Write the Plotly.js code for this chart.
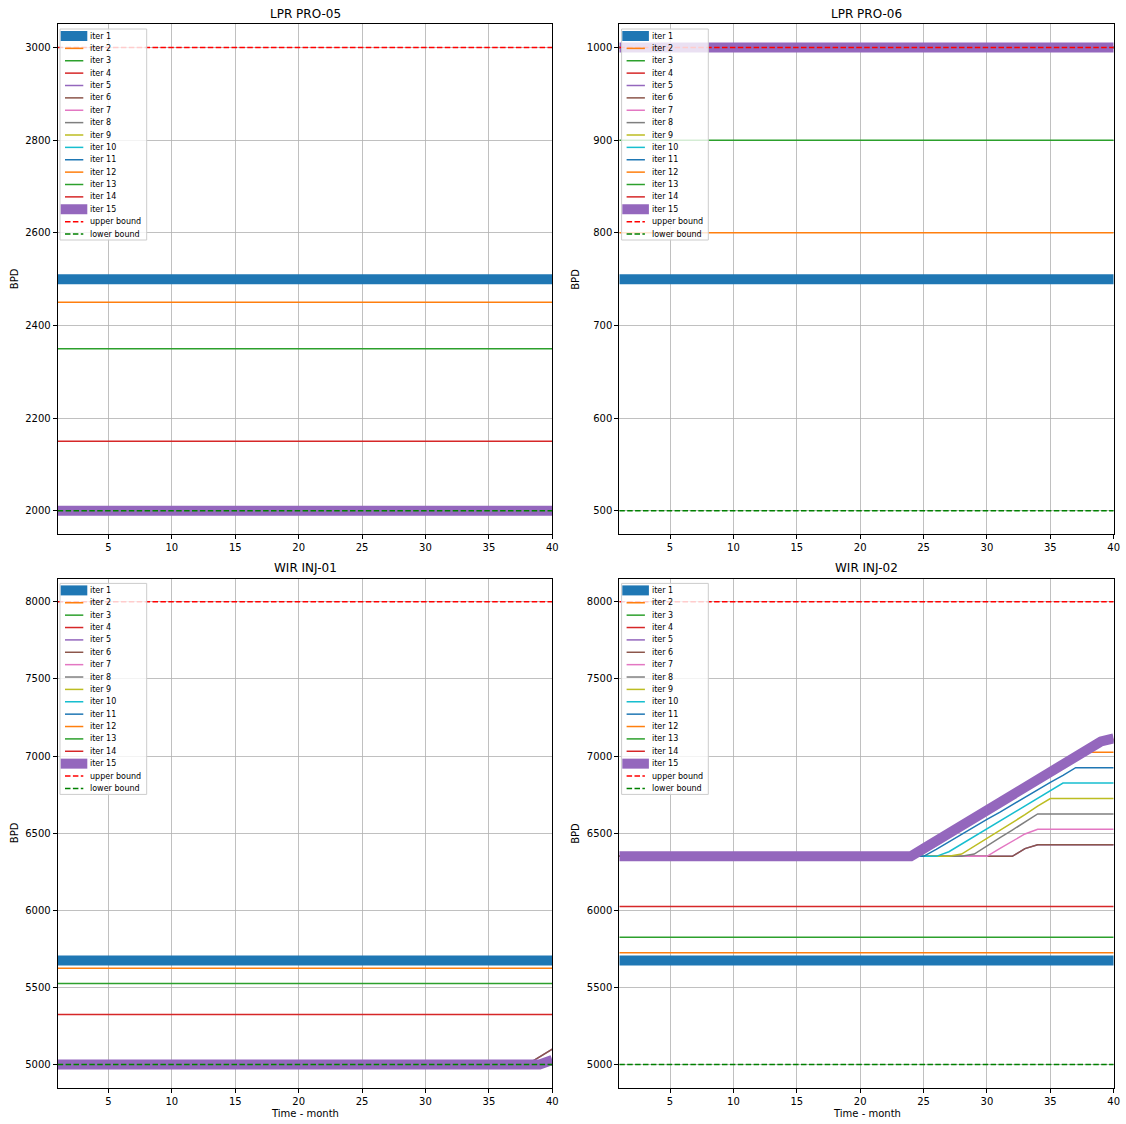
<!DOCTYPE html>
<html>
<head>
<meta charset="utf-8">
<script src="https://cdn.plot.ly/plotly-3.0.1.min.js"></script>
<style>
  html, body { margin: 0; padding: 0; background: #ffffff; }
  #chart { width: 1126px; height: 1124px; }
</style>
</head>
<body>
<div id="chart"></div>
<script>
// ---------------------------------------------------------------------------
// Data: monthly rate per optimisation iteration for four wells
// ---------------------------------------------------------------------------
const months = [1, 2, 3, 4, 5, 6, 7, 8, 9, 10,
                11, 12, 13, 14, 15, 16, 17, 18, 19, 20,
                21, 22, 23, 24, 25, 26, 27, 28, 29, 30,
                31, 32, 33, 34, 35, 36, 37, 38, 39, 40];

const iterNames = ['iter 1', 'iter 2', 'iter 3', 'iter 4', 'iter 5', 'iter 6', 'iter 7', 'iter 8',
                   'iter 9', 'iter 10', 'iter 11', 'iter 12', 'iter 13', 'iter 14', 'iter 15'];
const boundNames = ['upper bound', 'lower bound'];
const panelTitles = ['LPR PRO-05', 'LPR PRO-06', 'WIR INJ-01', 'WIR INJ-02'];

// Constant rates (one value held over all months) per iteration
const pro05Levels = [2500, 2450, 2350, 2150, 2000, 2000, 2000, 2000, 2000, 2000, 2000, 2000, 2000, 2000, 2000];
const pro06Levels = [750, 800, 900, 1000, 1000, 1000, 1000, 1000, 1000, 1000, 1000, 1000, 1000, 1000, 1000];

// WIR INJ-01
const inj01Iter1 = 5675;
const inj01Iter2 = 5625;
const inj01Iter3 = 5525;
const inj01Iter4 = 5325;
const inj01Iter5 = [5000, 5000, 5000, 5000, 5000, 5000, 5000, 5000, 5000, 5000,
                    5000, 5000, 5000, 5000, 5000, 5000, 5000, 5000, 5000, 5000,
                    5000, 5000, 5000, 5000, 5000, 5000, 5000, 5000, 5000, 5000,
                    5000, 5000, 5000, 5000, 5000, 5000, 5000, 5000, 5050, 5100];
const inj01Iter6 = [5000, 5000, 5000, 5000, 5000, 5000, 5000, 5000, 5000, 5000,
                    5000, 5000, 5000, 5000, 5000, 5000, 5000, 5000, 5000, 5000,
                    5000, 5000, 5000, 5000, 5000, 5000, 5000, 5000, 5000, 5000,
                    5000, 5000, 5000, 5000, 5000, 5000, 5000, 5000, 5050, 5100];
const inj01Iter7 = 5000;
const inj01Iter8 = 5000;
const inj01Iter9 = 5000;
const inj01Iter10 = 5000;
const inj01Iter11 = 5000;
const inj01Iter12 = 5000;
const inj01Iter13 = [5000, 5000, 5000, 5000, 5000, 5000, 5000, 5000, 5000, 5000,
                     5000, 5000, 5000, 5000, 5000, 5000, 5000, 5000, 5000, 5000,
                     5000, 5000, 5000, 5000, 5000, 5000, 5000, 5000, 5000, 5000,
                     5000, 5000, 5000, 5000, 5000, 5000, 5000, 5000, 5000, 5030];
const inj01Iter14 = [5000, 5000, 5000, 5000, 5000, 5000, 5000, 5000, 5000, 5000,
                     5000, 5000, 5000, 5000, 5000, 5000, 5000, 5000, 5000, 5000,
                     5000, 5000, 5000, 5000, 5000, 5000, 5000, 5000, 5000, 5000,
                     5000, 5000, 5000, 5000, 5000, 5000, 5000, 5000, 5000, 5030];
const inj01Iter15 = [5000, 5000, 5000, 5000, 5000, 5000, 5000, 5000, 5000, 5000,
                     5000, 5000, 5000, 5000, 5000, 5000, 5000, 5000, 5000, 5000,
                     5000, 5000, 5000, 5000, 5000, 5000, 5000, 5000, 5000, 5000,
                     5000, 5000, 5000, 5000, 5000, 5000, 5000, 5000, 5000, 5030];

// WIR INJ-02
const inj02Iter1 = 5675;
const inj02Iter2 = 5725;
const inj02Iter3 = 5825;
const inj02Iter4 = 6025;
const inj02Iter5 = [6350, 6350, 6350, 6350, 6350, 6350, 6350, 6350, 6350, 6350,
                    6350, 6350, 6350, 6350, 6350, 6350, 6350, 6350, 6350, 6350,
                    6350, 6350, 6350, 6350, 6350, 6350, 6350, 6350, 6350, 6350,
                    6350, 6350, 6400, 6425, 6425, 6425, 6425, 6425, 6425, 6425];
const inj02Iter6 = [6350, 6350, 6350, 6350, 6350, 6350, 6350, 6350, 6350, 6350,
                    6350, 6350, 6350, 6350, 6350, 6350, 6350, 6350, 6350, 6350,
                    6350, 6350, 6350, 6350, 6350, 6350, 6350, 6350, 6350, 6350,
                    6350, 6350, 6400, 6425, 6425, 6425, 6425, 6425, 6425, 6425];
const inj02Iter7 = [6350, 6350, 6350, 6350, 6350, 6350, 6350, 6350, 6350, 6350,
                    6350, 6350, 6350, 6350, 6350, 6350, 6350, 6350, 6350, 6350,
                    6350, 6350, 6350, 6350, 6350, 6350, 6350, 6350, 6350, 6350,
                    6400, 6450, 6495, 6525, 6525, 6525, 6525, 6525, 6525, 6525];
const inj02Iter8 = [6350, 6350, 6350, 6350, 6350, 6350, 6350, 6350, 6350, 6350,
                    6350, 6350, 6350, 6350, 6350, 6350, 6350, 6350, 6350, 6350,
                    6350, 6350, 6350, 6350, 6350, 6350, 6350, 6350, 6365, 6420,
                    6470, 6520, 6575, 6625, 6625, 6625, 6625, 6625, 6625, 6625];
const inj02Iter9 = [6350, 6350, 6350, 6350, 6350, 6350, 6350, 6350, 6350, 6350,
                    6350, 6350, 6350, 6350, 6350, 6350, 6350, 6350, 6350, 6350,
                    6350, 6350, 6350, 6350, 6350, 6350, 6350, 6365, 6415, 6470,
                    6520, 6570, 6620, 6675, 6725, 6725, 6725, 6725, 6725, 6725];
const inj02Iter10 = [6350, 6350, 6350, 6350, 6350, 6350, 6350, 6350, 6350, 6350,
                     6350, 6350, 6350, 6350, 6350, 6350, 6350, 6350, 6350, 6350,
                     6350, 6350, 6350, 6350, 6350, 6350, 6380, 6430, 6475, 6525,
                     6575, 6625, 6675, 6725, 6775, 6825, 6825, 6825, 6825, 6825];
const inj02Iter11 = [6350, 6350, 6350, 6350, 6350, 6350, 6350, 6350, 6350, 6350,
                     6350, 6350, 6350, 6350, 6350, 6350, 6350, 6350, 6350, 6350,
                     6350, 6350, 6350, 6350, 6350, 6395, 6445, 6490, 6540, 6590,
                     6635, 6685, 6735, 6780, 6830, 6875, 6925, 6925, 6925, 6925];
const inj02Iter12 = [6350, 6350, 6350, 6350, 6350, 6350, 6350, 6350, 6350, 6350,
                     6350, 6350, 6350, 6350, 6350, 6350, 6350, 6350, 6350, 6350,
                     6350, 6350, 6350, 6350, 6375, 6425, 6475, 6525, 6575, 6625,
                     6675, 6725, 6775, 6825, 6875, 6925, 6975, 7025, 7025, 7025];
const inj02Iter13 = [6350, 6350, 6350, 6350, 6350, 6350, 6350, 6350, 6350, 6350,
                     6350, 6350, 6350, 6350, 6350, 6350, 6350, 6350, 6350, 6350,
                     6350, 6350, 6350, 6350, 6395, 6445, 6495, 6545, 6595, 6645,
                     6695, 6745, 6795, 6845, 6895, 6945, 6995, 7045, 7085, 7100];
const inj02Iter14 = [6350, 6350, 6350, 6350, 6350, 6350, 6350, 6350, 6350, 6350,
                     6350, 6350, 6350, 6350, 6350, 6350, 6350, 6350, 6350, 6350,
                     6350, 6350, 6350, 6350, 6400, 6450, 6500, 6550, 6600, 6650,
                     6700, 6750, 6800, 6850, 6900, 6950, 7000, 7050, 7090, 7110];
const inj02Iter15 = [6350, 6350, 6350, 6350, 6350, 6350, 6350, 6350, 6350, 6350,
                     6350, 6350, 6350, 6350, 6350, 6350, 6350, 6350, 6350, 6350,
                     6350, 6350, 6350, 6350, 6400, 6450, 6500, 6550, 6600, 6650,
                     6700, 6750, 6800, 6850, 6900, 6950, 7000, 7050, 7095, 7115];

const pro05Bounds = [3000, 2000];
const pro06Bounds = [1000, 500];
const inj01Bounds = [8000, 5000];
const inj02Bounds = [8000, 5000];

const pro05Ticks = [2000, 2200, 2400, 2600, 2800, 3000];
const pro06Ticks = [500, 600, 700, 800, 900, 1000];
const injTicks = [5000, 5500, 6000, 6500, 7000, 7500, 8000];
const monthTicks = [5, 10, 15, 20, 25, 30, 35, 40];

// ---------------------------------------------------------------------------
// Styling
// ---------------------------------------------------------------------------
const W = 1126, H = 1124;
const FONT = 'DejaVu Sans, Liberation Sans, sans-serif';
const iterColors = ['#1f77b4', '#ff7f0e', '#2ca02c', '#d62728', '#9467bd',
                    '#8c564b', '#e377c2', '#7f7f7f', '#bcbd22', '#17becf',
                    '#1f77b4', '#ff7f0e', '#2ca02c', '#d62728', '#9467bd'];
const boundColors = ['#ff0000', '#008000'];
const THICK = 10, THIN = 1.5;
const DASH = '5.5px,2.4px';
const isThick = i => (i === 0 || i === 14);

// axes boxes in pixels: [left, top, right, bottom]
const boxes = [
  [57.7, 24.3, 552.3, 534.0],
  [619.3, 24.3, 1113.7, 534.0],
  [57.7, 578.7, 552.3, 1087.7],
  [619.3, 578.7, 1113.7, 1087.7]
];
const px = x => x / W;
const py = y => 1 - y / H;

const expand = v => Array.isArray(v) ? v : months.map(() => v);

const panels = [
  { series: pro05Levels, bounds: pro05Bounds, ticks: pro05Ticks, range: [1950, 3050] },
  { series: pro06Levels, bounds: pro06Bounds, ticks: pro06Ticks, range: [475, 1025] },
  { series: [inj01Iter1, inj01Iter2, inj01Iter3, inj01Iter4, inj01Iter5, inj01Iter6, inj01Iter7,
             inj01Iter8, inj01Iter9, inj01Iter10, inj01Iter11, inj01Iter12, inj01Iter13,
             inj01Iter14, inj01Iter15],
    bounds: inj01Bounds, ticks: injTicks, range: [4850, 8150] },
  { series: [inj02Iter1, inj02Iter2, inj02Iter3, inj02Iter4, inj02Iter5, inj02Iter6, inj02Iter7,
             inj02Iter8, inj02Iter9, inj02Iter10, inj02Iter11, inj02Iter12, inj02Iter13,
             inj02Iter14, inj02Iter15],
    bounds: inj02Bounds, ticks: injTicks, range: [4850, 8150] }
];

const traces = [];
const shapes = [];
const annotations = [];
const layout = {
  width: W, height: H,
  margin: { l: 0, r: 0, t: 0, b: 0, pad: 0 },
  paper_bgcolor: '#ffffff',
  plot_bgcolor: '#ffffff',
  showlegend: false,
  font: { family: FONT, size: 10, color: '#000000' }
};

panels.forEach((p, k) => {
  const n = k === 0 ? '' : String(k + 1);
  const xa = 'x' + n, ya = 'y' + n;
  const [L, T, R, B] = boxes[k];

  p.series.forEach((v, i) => {
    traces.push({
      type: 'scatter', mode: 'lines', x: months, y: expand(v),
      xaxis: xa, yaxis: ya, name: iterNames[i], hoverinfo: 'skip',
      line: { color: iterColors[i], width: isThick(i) ? THICK : THIN }
    });
  });
  p.bounds.forEach((b, j) => {
    traces.push({
      type: 'scatter', mode: 'lines', x: months, y: expand(b),
      xaxis: xa, yaxis: ya, name: boundNames[j], hoverinfo: 'skip',
      line: { color: boundColors[j], width: THIN, dash: DASH }
    });
  });

  const axCommon = {
    showline: true, linecolor: '#000000', linewidth: 1, mirror: true,
    showgrid: true, gridcolor: '#b0b0b0', gridwidth: 0.8,
    zeroline: false, ticks: 'outside', ticklen: 4, tickwidth: 1, tickcolor: '#000000',
    tickfont: { family: FONT, size: 10, color: '#000000' },
    fixedrange: true
  };
  layout['xaxis' + n] = Object.assign({}, axCommon, {
    domain: [px(L), px(R)], anchor: ya, range: [1, 40],
    tickmode: 'array', tickvals: monthTicks, ticktext: monthTicks.map(String)
  });
  layout['yaxis' + n] = Object.assign({}, axCommon, {
    domain: [py(B), py(T)], anchor: xa, range: p.range,
    tickmode: 'array', tickvals: p.ticks, ticktext: p.ticks.map(String)
  });

  // panel title
  annotations.push({
    xref: 'paper', yref: 'paper', x: px((L + R) / 2), y: py(T - 10.3),
    xanchor: 'center', yanchor: 'middle', showarrow: false,
    text: panelTitles[k], font: { family: FONT, size: 12, color: '#000000' }
  });
  // y-axis title
  annotations.push({
    xref: 'paper', yref: 'paper', x: px(L - 43.7), y: py((T + B) / 2),
    xanchor: 'center', yanchor: 'middle', showarrow: false, textangle: -90,
    text: 'BPD', font: { family: FONT, size: 10, color: '#000000' }
  });
  // x-axis title on the bottom row
  if (k >= 2) {
    annotations.push({
      xref: 'paper', yref: 'paper', x: px((L + R) / 2), y: py(1113.5),
      xanchor: 'center', yanchor: 'middle', showarrow: false,
      text: 'Time - month', font: { family: FONT, size: 10, color: '#000000' }
    });
  }

  // legend box in the upper-left corner of each panel
  shapes.push({
    type: 'rect', xref: 'paper', yref: 'paper', layer: 'above',
    x0: px(L + 2.3), x1: px(L + 89), y0: py(T + 4.7), y1: py(T + 215.7),
    fillcolor: 'rgba(255,255,255,0.8)', line: { color: '#cccccc', width: 1 }
  });
  const entries = iterNames.map((name, i) => ({
    name, color: iterColors[i], width: isThick(i) ? THICK : THIN, dash: 'solid', thick: isThick(i)
  })).concat(boundNames.map((name, j) => ({
    name, color: boundColors[j], width: THIN, dash: DASH, thick: false
  })));
  entries.forEach((e, i) => {
    const cy = T + 11.7 + i * 12.375;
    shapes.push({
      type: 'line', xref: 'paper', yref: 'paper', layer: 'above',
      x0: px(L + (e.thick ? 3 : 7.3)), x1: px(L + (e.thick ? 29.6 : 25.6)),
      y0: py(cy), y1: py(cy),
      line: { color: e.color, width: e.width, dash: e.dash }
    });
    annotations.push({
      xref: 'paper', yref: 'paper', x: px(L + 30.6), y: py(cy),
      xanchor: 'left', yanchor: 'middle', showarrow: false,
      text: e.name, font: { family: FONT, size: 8, color: '#000000' }
    });
  });
});

layout.shapes = shapes;
layout.annotations = annotations;

Plotly.newPlot('chart', traces, layout, { staticPlot: true, displayModeBar: false });
</script>
</body>
</html>
